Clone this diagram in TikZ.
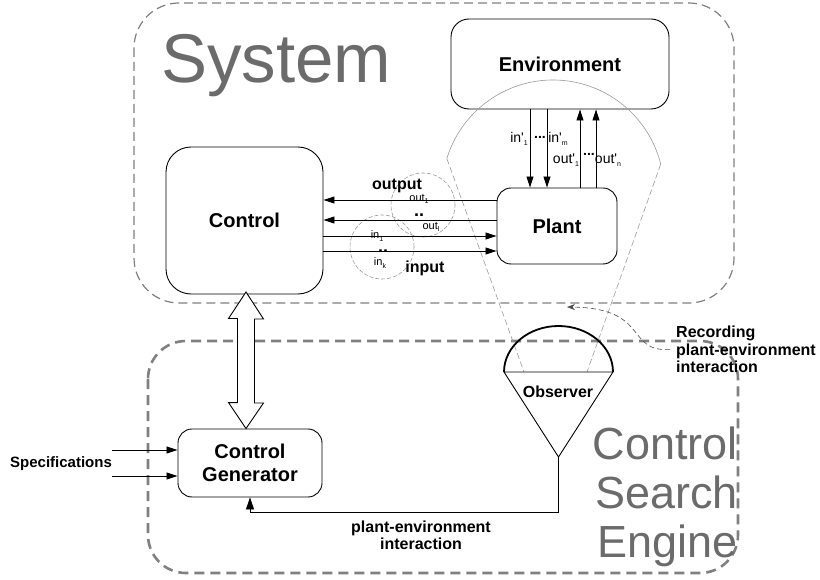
\documentclass[tikz,border=0pt]{standalone}
\usepackage{fontspec}
\setmainfont{Liberation Sans}
\usetikzlibrary{arrows.meta,calc}

\definecolor{framegray}{HTML}{808080}
\definecolor{titlegray}{HTML}{6B6B6B}
\definecolor{fovgray}{HTML}{9A9A9A}

\newcommand{\fsz}[2]{\fontsize{#1}{#2}\selectfont}
\newcommand{\lowsub}[1]{\raisebox{-2.5pt}{\fsz{7}{8}#1}}

\begin{document}
\begin{tikzpicture}[x=1pt,y=-1pt]
        \useasboundingbox (0,0) rectangle (820,580);
        % the two frames
        \draw[framegray, line width=1.2pt, dash pattern=on 9pt off 5pt, rounded corners=45pt] (134,3) rectangle (734,303);
        \draw[framegray, line width=2.6pt, dash pattern=on 10pt off 6pt, rounded corners=38pt] (148,341) rectangle (738,573);
        \node[titlegray, font=\fsz{69}{72}, anchor=base west, inner sep=0pt] (systitle) at (161,83) {System};
        \node[titlegray, font=\fsz{45}{49}, align=right, anchor=north east, inner sep=0pt] (csetitle) at (738,427) {Control\\Search\\Engine};
        \begin{scope}[every node/.style={draw, line width=0.9pt, inner sep=0pt, font=\fsz{20}{23}\bfseries}]
            \node[rounded corners=18pt, minimum width=218pt, minimum height=90pt] (env) at (560,64) {Environment};
            \node[rounded corners=14pt, minimum width=120pt, minimum height=76pt] (plant) at (557,226) {Plant};
            \node[rounded corners=25pt, minimum width=157pt, minimum height=147pt] (ctrl) at (244.5,220.5) {Control};
            \node[rounded corners=14pt, minimum width=144pt, minimum height=68pt, align=center] (cgen) at (250,463) {Control\\Generator};
        \end{scope}
        % field of view of the observer
        \coordinate (fovc) at (553,191);
        \coordinate (obs) at (558.5,372);
        \coordinate (obsL) at (524,372);
        \coordinate (obsR) at (587,372);
        \draw[fovgray, line width=0.6pt] (fovc) ++(163:111pt) coordinate (fovL) arc[start angle=163, end angle=14, radius=111pt] coordinate (fovR);
        \draw[fovgray, line width=0.6pt, dash pattern=on 6pt off 3pt] (fovL) -- (obsL) (fovR) -- (obsR);
        \draw[fovgray, line width=0.6pt, dash pattern=on 4pt off 2pt] (423,205) circle[radius=32pt] (382,247) circle[radius=32pt];
        % observer
        \draw[line width=1.8pt] ($(obs)+(-54.5,0)$) arc[start angle=180, end angle=0, x radius=54.5pt, y radius=46pt];
        \draw[line width=0.9pt] ($(obs)+(-54.5,0)$) -- ($(obs)+(54.5,0)$) -- ($(obs)+(0,85)$) coordinate (obstip) -- cycle;
        \node[font=\fsz{16}{18}\bfseries, inner sep=0pt] (obslabel) at (558,392) {Observer};
        % signals
        \coordinate (spec1) at (112,450);
        \coordinate (spec2) at (112,476);
        \begin{scope}[every edge/.style={draw, line width=0.8pt, -{Triangle[length=11pt,width=7pt]}}]
            \path
                (plant.west |- 0,200) edge (ctrl.east |- 0,200)
                (plant.west |- 0,220) edge (ctrl.east |- 0,220)
                (ctrl.east |- 0,236) edge (plant.west |- 0,236)
                (ctrl.east |- 0,251) edge (plant.west |- 0,251)
                (env.south -| 530,0) edge (plant.north -| 530,0)
                (env.south -| 547,0) edge (plant.north -| 547,0)
                (plant.north -| 580,0) edge (env.south -| 580,0)
                (plant.north -| 596,0) edge (env.south -| 596,0)
                (spec1) edge (cgen.west |- spec1)
                (spec2) edge (cgen.west |- spec2);
        \end{scope}
        \draw[line width=0.8pt, -{Triangle[length=12pt,width=8pt]}] (obstip) -- ++(0,55) -| (cgen.south);
        % hollow double arrow between control and generator
        \coordinate (dtop) at (246,292);
        \coordinate (dbot) at (cgen.north -| 246,0);
        \draw[line width=0.9pt, fill=white] (dtop) -- ++(17.5,27) -- ++(-9,0) -- ++(0,84) -- ++(9,0) -- (dbot)
            -- ++(-17.5,-26) -- ++(9,0) -- ++(0,-84) -- ++(-9,0) -- cycle;
        % labels
        \begin{scope}[every node/.style={inner sep=0pt, font=\fsz{11}{12}}]
            \node[font=\fsz{16}{18}\bfseries] (outlabel) at (397,186) {output};
            \node (out1) at (419,199) {out\lowsub{1}};
            \node[font=\fsz{18}{18}\bfseries] (outdots) at (419,215) {..};
            \node (outl) at (431,227) {out\lowsub{l}};
            \node (in1) at (377,236) {in\lowsub{1}};
            \node[font=\fsz{18}{18}\bfseries] (indots) at (383,251) {..};
            \node (ink) at (380,263) {in\lowsub{k}};
            \node[font=\fsz{16}{18}\bfseries] (inlabel) at (425,268) {input};
        \end{scope}
        \begin{scope}[every node/.style={inner sep=0pt, font=\fsz{14}{15}}]
            \node (envin1) at (519,139) {in\textquotesingle\lowsub{1}};
            \node[font=\fsz{14}{15}\bfseries] (envindots) at (540,137) {...};
            \node (envinm) at (558,139) {in\textquotesingle\lowsub{m}};
            \node (envout1) at (566,160) {out\textquotesingle\lowsub{1}};
            \node[font=\fsz{14}{15}\bfseries] (envoutdots) at (589,154) {...};
            \node (envoutn) at (608,160) {out\textquotesingle\lowsub{n}};
        \end{scope}
        \node[font=\fsz{15}{17}\bfseries, anchor=base west, inner sep=0pt] (speclabel) at (10,467) {Specifications};
        \node[font=\fsz{16}{17}\bfseries, align=center, anchor=north, inner sep=0pt] (feedlabel) at (421,521) {plant-environment\\interaction};
        \node[font=\fsz{16}{17.5}\bfseries, align=left, anchor=north west, inner sep=0pt] (reclabel) at (676,326) {Recording\\plant-environment\\interaction};
        \draw[black!70, line width=0.6pt, dash pattern=on 5pt off 3pt, -{Stealth[length=8pt,width=6pt]}]
            ([xshift=-6pt]reclabel.west) .. controls (625,352) and (650,308) .. (567,307);
    \end{tikzpicture}
\end{document}
